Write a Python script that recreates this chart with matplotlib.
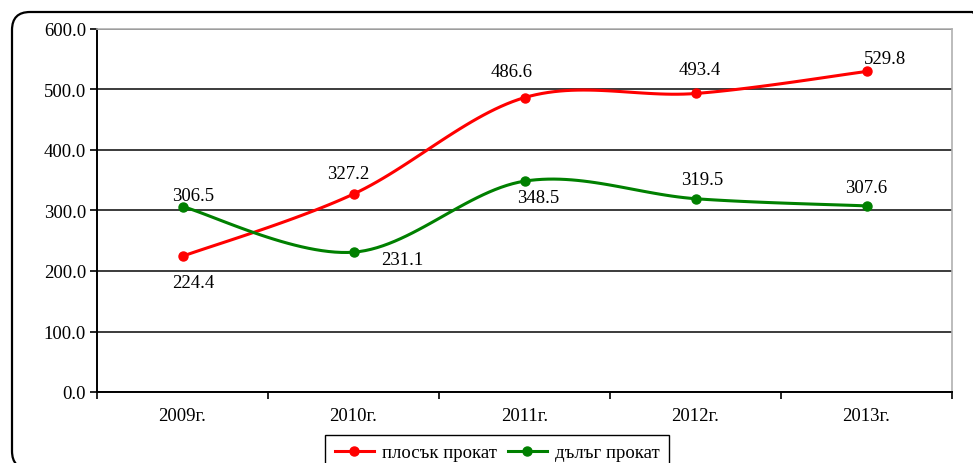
import numpy as np
import matplotlib.pyplot as plt
from matplotlib.patches import FancyBboxPatch

plt.rcParams['font.family'] = ['Liberation Serif', 'DejaVu Serif']
plt.rcParams['font.size'] = 13.5

years = ['2009г.', '2010г.', '2011г.', '2012г.', '2013г.']
flat = [224.4, 327.2, 486.6, 493.4, 529.8]
long_ = [306.5, 231.1, 348.5, 319.5, 307.6]
flat_name = 'плосък прокат'
long_name = 'дълъг прокат'

# label offsets in points (dx, dy)
flat_off = [(8, -19), (-4, 15), (-9, 19), (3, 17), (13, 9)]
long_off = [(8, 8), (35, -5), (10, -12), (5, 14), (0, 13)]


def smooth(xs, ys, n=30):
    # bezier smoothing like excel's smoothed line
    xs = np.asarray(xs, float)
    ys = np.asarray(ys, float)
    px, py = [], []
    k = len(xs)
    for i in range(k - 1):
        x0, y0 = xs[i], ys[i]
        x3, y3 = xs[i + 1], ys[i + 1]
        xm, ym = xs[max(i - 1, 0)], ys[max(i - 1, 0)]
        xp, yp = xs[min(i + 2, k - 1)], ys[min(i + 2, k - 1)]
        x1, y1 = x0 + (x3 - xm) / 6, y0 + (y3 - ym) / 6
        x2, y2 = x3 - (xp - x0) / 6, y3 - (yp - y0) / 6
        t = np.linspace(0, 1, n)
        px.append((1-t)**3*x0 + 3*(1-t)**2*t*x1 + 3*(1-t)*t**2*x2 + t**3*x3)
        py.append((1-t)**3*y0 + 3*(1-t)**2*t*y1 + 3*(1-t)*t**2*y2 + t**3*y3)
    return np.concatenate(px), np.concatenate(py)


W, H = 973, 464
fig = plt.figure(figsize=(W / 100, H / 100), dpi=100)
ax = fig.add_axes([97 / W, 1 - 393 / H, (952 - 97) / W, (393 - 30) / H])

# outer frame with rounded corners (in pixels), partly cut off by the image edge
frame = FancyBboxPatch((12, -6), 978, H - 13 + 6,
                       boxstyle='round,pad=0,rounding_size=18',
                       transform=None, fill=False,
                       edgecolor='black', linewidth=1.6)
fig.patches.append(frame)

x = np.arange(len(years))
for vals, col, name, offs in [(flat, '#ff0000', flat_name, flat_off),
                              (long_, '#008000', long_name, long_off)]:
    sx, sy = smooth(x, vals)
    ax.plot(sx, sy, color=col, lw=2.2, zorder=3)
    ax.plot(x, vals, 'o', color=col, ms=6.5, zorder=4)
    ax.plot([], [], '-o', color=col, lw=2.2, ms=6.5, label=name)
    for xi, v, (dx, dy) in zip(x, vals, offs):
        ax.annotate(f'{v:.1f}', (xi, v), xytext=(dx, dy),
                    textcoords='offset points', ha='center', va='center')

ax.set_xlim(-0.5, len(years) - 0.5)
ax.set_ylim(0, 600)
ax.set_yticks(np.arange(0, 601, 100))
ax.set_yticklabels([f'{v:.1f}' for v in np.arange(0, 601, 100)])
ax.set_xticks(x)
ax.set_xticklabels(years)
ax.set_xticks(np.arange(-0.5, len(years), 1), minor=True)
ax.tick_params(axis='x', which='major', length=0, pad=11)
ax.tick_params(axis='x', which='minor', length=5, width=1.2)
ax.tick_params(axis='y', length=5, width=1.2, pad=3)
ax.grid(axis='y', color='#1a1a1a', lw=1.2)
ax.set_axisbelow(True)
for s in ['top', 'right']:
    ax.spines[s].set_color('#b0b0b0')
    ax.spines[s].set_linewidth(1.2)
for s in ['left', 'bottom']:
    ax.spines[s].set_linewidth(1.4)

fig.legend(loc='upper center', bbox_to_anchor=(497 / W, 1 - 436 / H), ncol=2,
           fancybox=False, edgecolor='black', framealpha=1,
           handlelength=2.1, columnspacing=0.6, handletextpad=0.4,
           borderpad=0.5, borderaxespad=0)

fig.savefig('out.png', dpi=100)
